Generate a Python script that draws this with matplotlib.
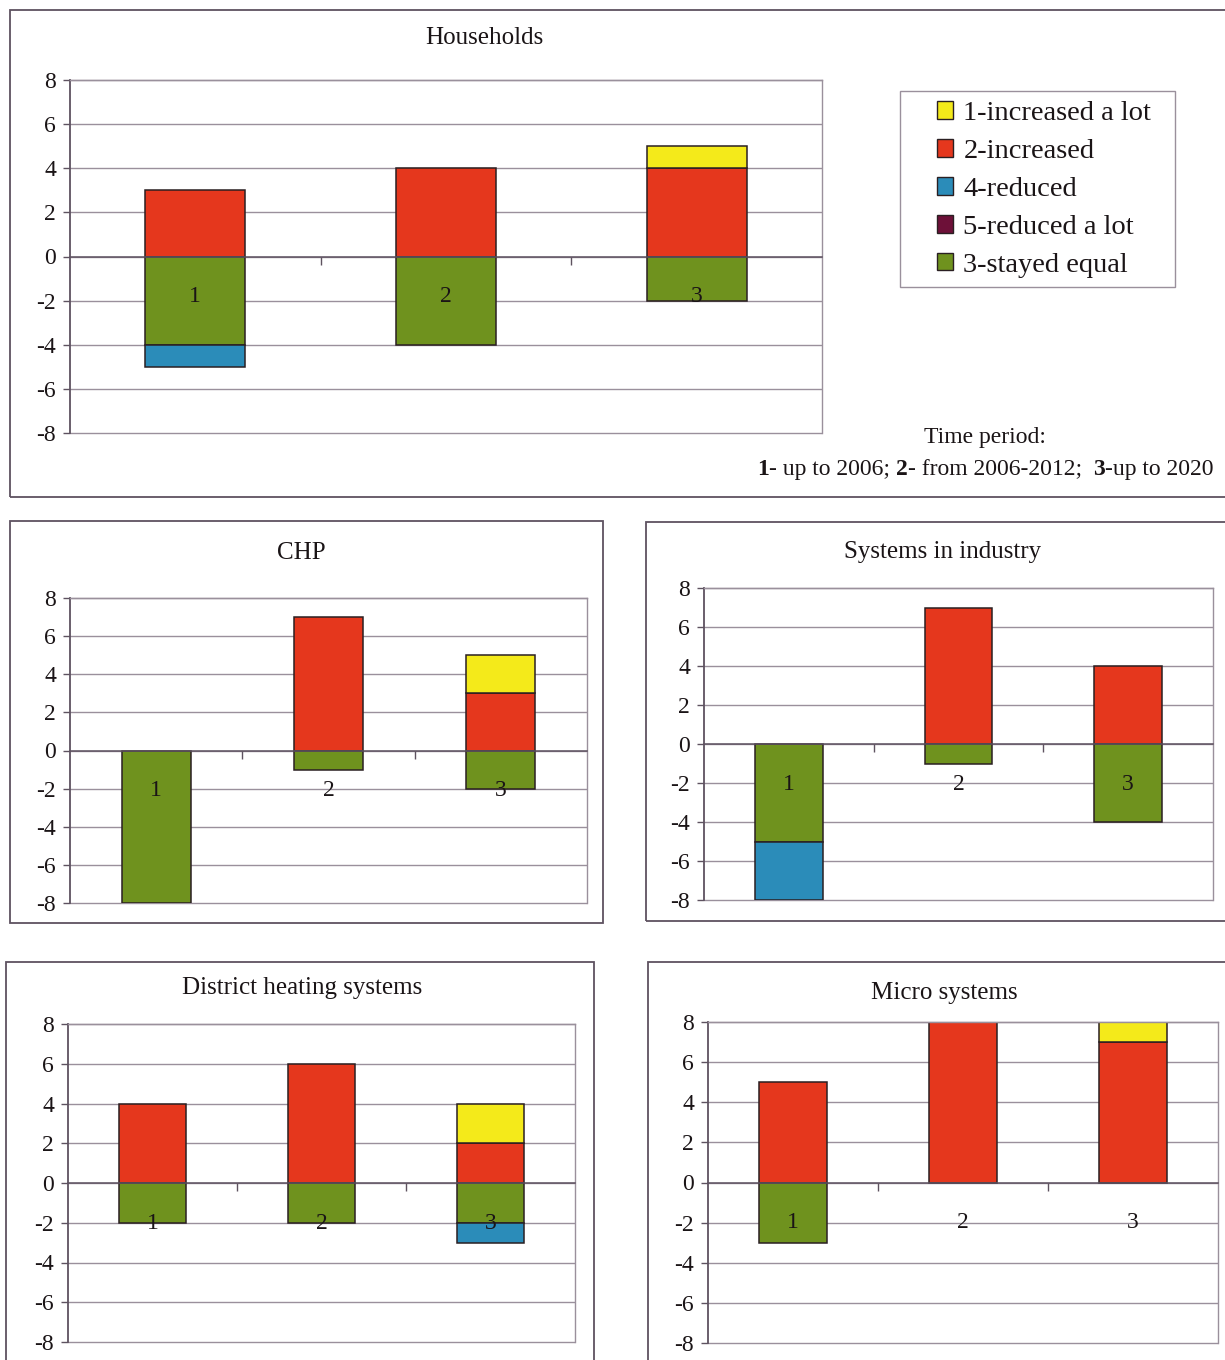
import matplotlib
matplotlib.use("Agg")
import matplotlib.pyplot as plt
from matplotlib.patches import Patch, Rectangle
import numpy as np

plt.rcParams["font.family"] = ["Liberation Serif", "DejaVu Serif"]
plt.rcParams["axes.unicode_minus"] = False

# ---- data -------------------------------------------------------------
panel_titles = ["Households", "CHP", "Systems in industry",
                "District heating systems", "Micro systems"]
periods = ["1", "2", "3"]

# number of answers per time period (1, 2, 3) for every panel
increased_a_lot = [[0, 0, 1], [0, 0, 2], [0, 0, 0], [0, 0, 2], [0, 0, 1]]
increased = [[3, 4, 4], [0, 7, 3], [0, 7, 4], [4, 6, 2], [5, 8, 7]]
stayed_equal = [[-4, -4, -2], [-8, -1, -2], [-5, -1, -4], [-2, -2, -2], [-3, 0, 0]]
reduced = [[-1, 0, 0], [0, 0, 0], [-3, 0, 0], [0, 0, -1], [0, 0, 0]]
reduced_a_lot = [[0, 0, 0], [0, 0, 0], [0, 0, 0], [0, 0, 0], [0, 0, 0]]

legend_labels = ["1-increased a lot", "2-increased", "4-reduced",
                 "5-reduced a lot", "3-stayed equal"]
y_ticks = [-8, -6, -4, -2, 0, 2, 4, 6, 8]

# ---- styling -----------------------------------------------------------
YELLOW = "#F4EA1A"
RED = "#E5371D"
GREEN = "#6F921E"
BLUE = "#2B8CB9"
MAROON = "#6D1038"
GRID = "#9a909c"
AXIS = "#5e5260"
FRAME = "#5e5260"
EDGE = "#2a1f22"
TEXT = "#1a1416"
FS = 17

W, H = 1225, 1360
fig = plt.figure(figsize=(W / 100, H / 100), dpi=100)
fig.patch.set_facecolor("white")


def fx(x):
    return x / W


def fy(y):
    return 1 - y / H


def add_frame(x0, y0, x1, y1, color=FRAME, lw=1.3):
    fig.add_artist(Rectangle((fx(x0), fy(y1)), fx(x1) - fx(x0), fy(y0) - fy(y1),
                             transform=fig.transFigure, fill=False,
                             edgecolor=color, linewidth=lw, zorder=0))


def draw_panel(i, box, title_xy):
    x0, y0, x1, y1 = box
    ax = fig.add_axes([fx(x0), fy(y1), fx(x1) - fx(x0), fy(y0) - fy(y1)])
    ax.set_facecolor("none")
    x = np.arange(len(periods))
    w = 0.4
    kw = dict(width=w, edgecolor=EDGE, linewidth=1.1, zorder=2)
    red = np.array(increased[i])
    yel = np.array(increased_a_lot[i])
    grn = np.array(stayed_equal[i])
    blu = np.array(reduced[i])
    mar = np.array(reduced_a_lot[i])
    for vals, base, col in [(red, 0, RED), (yel, red, YELLOW),
                            (grn, 0, GREEN), (blu, grn, BLUE),
                            (mar, grn + blu, MAROON)]:
        vals = np.asarray(vals)
        base = np.zeros_like(vals) + base
        m = vals != 0
        if m.any():
            ax.bar(x[m], vals[m], bottom=base[m], color=col, **kw)

    ax.set_xlim(-0.5, 2.5)
    ax.set_ylim(-8, 8)
    ax.hlines(y_ticks, -0.5, 2.5, colors=GRID, linewidth=1.0, zorder=0.5,
              clip_on=False)
    ax.set_yticks(y_ticks)
    ax.set_yticklabels([str(t) for t in y_ticks])
    ax.tick_params(axis="y", direction="out", length=5, width=1.0,
                   color=AXIS, pad=5, labelsize=FS, labelcolor=TEXT)

    ax.spines["bottom"].set_position(("data", 0))
    ax.spines["bottom"].set_color(AXIS)
    ax.spines["bottom"].set_linewidth(1.1)
    ax.spines["bottom"].set_zorder(3)
    ax.spines["left"].set_color(AXIS)
    ax.spines["left"].set_linewidth(1.3)
    for s in ("top", "right"):
        ax.spines[s].set_color(GRID)
        ax.spines[s].set_linewidth(1.0)
    ax.set_xticks(x)
    ax.set_xticklabels(periods)
    ax.set_xticks([0.5, 1.5], minor=True)
    ax.tick_params(axis="x", which="major", length=0, pad=21.5,
                   labelsize=FS, labelcolor=TEXT)
    ax.tick_params(axis="x", which="minor", direction="out", length=6,
                   width=1.0, color=AXIS)
    ax.xaxis.set_zorder(3)
    fig.text(fx(title_xy[0]), fy(title_xy[1]), panel_titles[i],
             ha="center", va="center", fontsize=18, color=TEXT)
    return ax


# outer frames of the five charts
add_frame(10, 10, 1240, 497)
add_frame(10, 521, 603, 923)
add_frame(646, 522, 1240, 921)
add_frame(6, 962, 594, 1380)
add_frame(648, 962, 1240, 1380)

draw_panel(0, (70, 80, 822, 433), (484, 38))
draw_panel(1, (70, 598, 587, 903), (301, 553))
draw_panel(2, (704, 588, 1213, 900), (943, 552))
draw_panel(3, (68, 1024, 575, 1342), (302, 988))
draw_panel(4, (708, 1022, 1218, 1343), (944, 993))

# legend: box drawn separately, entries placed inside it
add_frame(900, 91, 1175, 287, color=GRID, lw=1.0)
handles = [Patch(facecolor=c, edgecolor=EDGE, linewidth=1.0)
           for c in (YELLOW, RED, BLUE, MAROON, GREEN)]
leg = fig.legend(handles, legend_labels, loc="center",
                 bbox_to_anchor=(fx(1044), fy(189.5)), fontsize=20.5,
                 frameon=False,
                 handlelength=0.58, handleheight=0.58, handletextpad=0.35,
                 labelspacing=0.45, borderpad=0, borderaxespad=0)
for t in leg.get_texts():
    t.set_color(TEXT)

# time-period note
fig.text(fx(985), fy(437), "Time period:", ha="center", va="center",
         fontsize=17, color=TEXT)
pieces = [("1", "bold"), ("- up to 2006; ", "normal"), ("2", "bold"),
          ("- from 2006-2012;  ", "normal"), ("3", "bold"),
          ("-up to 2020", "normal")]
prev = fig.text(fx(757), fy(475), pieces[0][0], ha="left", va="baseline",
                fontsize=17, fontweight=pieces[0][1], color=TEXT)
for txt, wt in pieces[1:]:
    prev = plt.annotate(
        txt, xy=(1, 0), xycoords=prev, xytext=(0, 0), textcoords="offset points",
        ha="left", va="bottom", fontsize=17, fontweight=wt, color=TEXT,
        annotation_clip=False)

fig.savefig("out.png", dpi=100)
